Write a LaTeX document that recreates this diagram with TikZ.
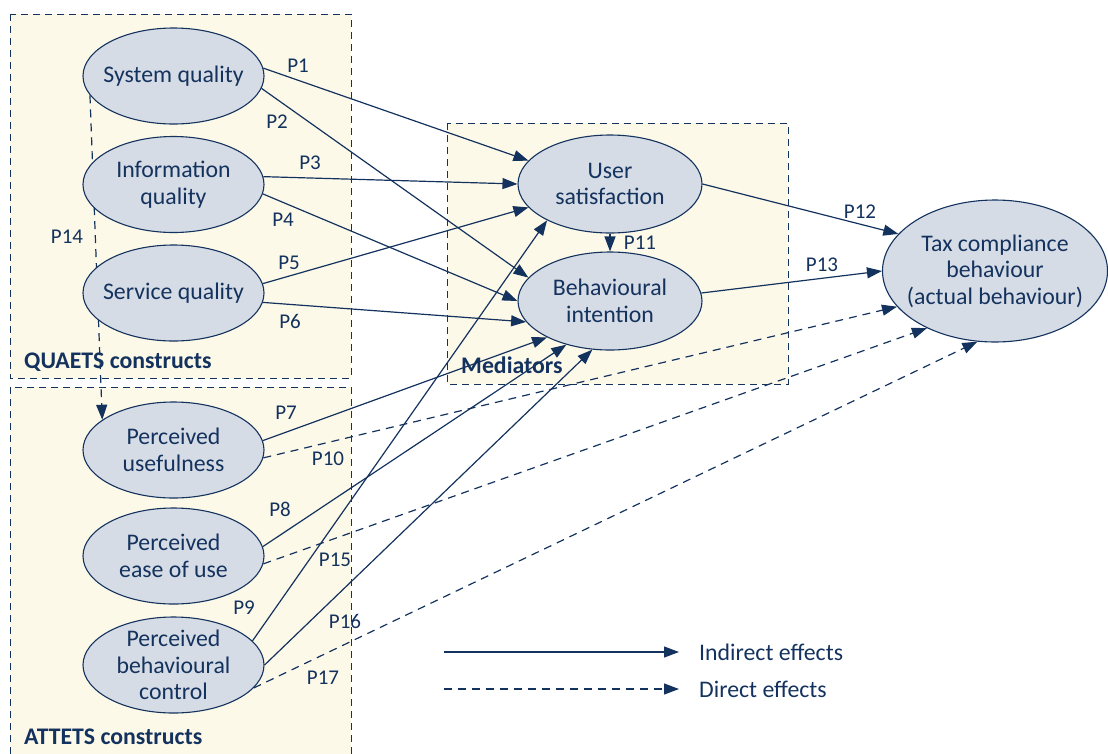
\documentclass[tikz,border=0pt]{standalone}
\usepackage{fontspec}
\setmainfont{Carlito}
\usetikzlibrary{arrows.meta,positioning,shapes.geometric}
\definecolor{navy}{HTML}{14325E}
\definecolor{ovalfill}{HTML}{D6DCE5}
\definecolor{boxfill}{HTML}{FDF9E9}
\pgfdeclarelayer{bg}
\pgfdeclarelayer{mid}
\pgfsetlayers{bg,mid,main}

\tikzset{
  construct/.style={ellipse, draw=navy, fill=ovalfill, line width=1.1pt,
    minimum width=181pt, minimum height=96pt, inner xsep=-30pt, inner ysep=-15pt,
    align=center, text=navy, font=\fontsize{23.8}{26.5}\selectfont},
  group/.style={draw=navy, fill=boxfill, line width=1pt, dash pattern=on 7pt off 5pt},
  grouplabel/.style={anchor=west, inner sep=0pt, text=navy, font=\fontsize{23.8}{26}\selectfont\bfseries},
  plabel/.style={inner sep=0pt, text=navy, font=\fontsize{21}{24}\selectfont},
  legendtext/.style={inner sep=0pt, text=navy, font=\fontsize{23.8}{26}\selectfont},
  indirect/.style={draw=navy, line width=1.2pt, -{Triangle[length=15pt,width=11pt]}},
  direct/.style={indirect, dash pattern=on 8pt off 6pt},
}

\begin{document}
\begin{tikzpicture}[x=1pt, y=-1pt]
\useasboundingbox (0,0) rectangle (1108,753);

% construct groups
\begin{pgfonlayer}{bg}
  \draw[group] (10,14) rectangle (351,378);
  \draw[group] (10,387) rectangle (351,760);
  \draw[group] (447,123) rectangle (788,384);
\end{pgfonlayer}

% QUAETS constructs
\node[construct] (sysq) at (173.5,76) {System quality};
\node[construct] (infq) at (173.5,184.5) {Information\\quality};
\node[construct] (servq) at (173.5,293) {Service quality};
% ATTETS constructs
\node[construct] (pu) at (173.5,450) {Perceived\\usefulness};
\node[construct] (peou) at (173.5,556) {Perceived\\ease of use};
\node[construct] (pbc) at (173.5,665) {Perceived\\behavioural\\control};
% mediators and outcome
\node[construct, minimum width=184pt, minimum height=98pt] (usat) at (610,184) {User\\satisfaction};
\node[construct, minimum width=184pt, minimum height=98pt] (bint) at (610,301) {Behavioural\\intention};
\node[construct, minimum width=225pt, minimum height=142pt] (tcb) at (995,271) {Tax compliance\\behaviour\\(actual behaviour)};

\node[grouplabel] (quaets) at (24,362) {QUAETS constructs};
\node[grouplabel] (attets) at (24,737) {ATTETS constructs};
\node[grouplabel] (medi) at (461,365) {Mediators};

% P14 runs behind the ovals
\begin{pgfonlayer}{mid}
  \draw[direct] (sysq.193) -- (pu.157);
\end{pgfonlayer}

% indirect effects
\draw[indirect] (sysq.5) -- (usat.164);
\draw[indirect] (sysq.352) -- (bint.164);
\draw[indirect] (infq.5) -- (usat.180);
\draw[indirect] (infq.-6) -- (bint.180);
\draw[indirect] (servq.6) -- (usat.196);
\draw[indirect] (servq.-6) -- (bint.194);
\draw[indirect] (pu.6) -- (bint.210);
\draw[indirect] (peou.6) -- (bint.225);
\draw[indirect] (pbc.17) -- (usat.210);
\draw[indirect] (pbc.0) -- (bint.250);
\draw[indirect] (usat) -- (bint);
\draw[indirect] (usat.0) -- (tcb.159);
\draw[indirect] (bint.5) -- (tcb.180);
% direct effects
\draw[direct] (pu.-5) -- (tcb.200);
\draw[direct] (peou.-5) -- (tcb.220);
\draw[direct] (pbc.-16) -- (tcb.256);

% path labels
\foreach \n/\x/\y in {1/298/66, 2/277/122, 3/310/163, 4/283/220, 5/289/263,
    6/290/321, 7/286/413, 8/280/509, 9/244/608, 10/328/459, 11/640/243,
    12/860/212, 13/822/265, 14/67/237, 15/335/560, 16/345/621, 17/323/678}
  \node[plabel] (p\n) at (\x,\y) {P\n};

% legend
\coordinate (solidA) at (444,652);
\coordinate (solidB) at (679,652);
\coordinate (dashA) at (444,689);
\coordinate (dashB) at (679,689);
\draw[indirect] (solidA) -- (solidB);
\draw[direct] (dashA) -- (dashB);
\node[legendtext, right=20pt of solidB] (ind) {Indirect effects};
\node[legendtext, right=20pt of dashB] (dir) {Direct effects};
\end{tikzpicture}
\end{document}
